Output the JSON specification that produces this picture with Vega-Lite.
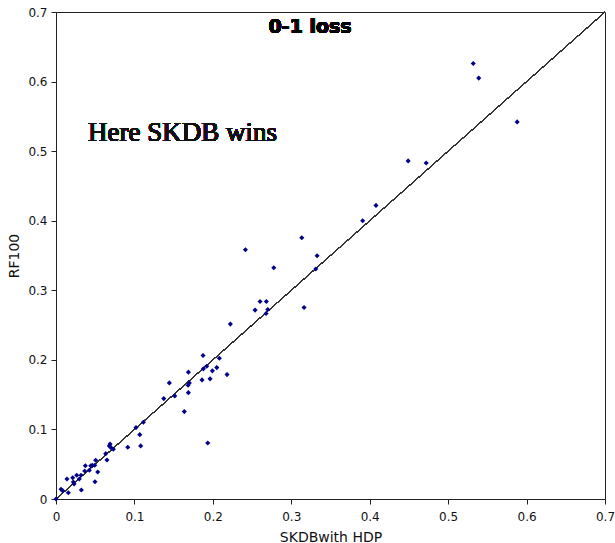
{
  "$schema": "https://vega.github.io/schema/vega-lite/v6.json",
  "width": 549,
  "height": 487,
  "autosize": "none",
  "padding": {"left": 56, "top": 12, "right": 10, "bottom": 44},
  "background": "white",
  "config": {
    "view": {"stroke": "#222", "strokeWidth": 1},
    "axis": {
      "grid": false,
      "domainColor": "#222",
      "tickColor": "#222",
      "labelColor": "#111",
      "titleColor": "#111",
      "labelFont": "DejaVu Sans",
      "titleFont": "DejaVu Sans",
      "labelFontSize": 12,
      "titleFontSize": 14,
      "titleFontWeight": "normal",
      "tickSize": 5,
      "labelFlush": false,
      "labelOverlap": false
    }
  },
  "data": {
    "values": [
      {"skdb": 0.0, "rf": 0.0},
      {"skdb": 0.0064, "rf": 0.014},
      {"skdb": 0.0085, "rf": 0.012},
      {"skdb": 0.0157, "rf": 0.009},
      {"skdb": 0.014, "rf": 0.0288},
      {"skdb": 0.0213, "rf": 0.0306},
      {"skdb": 0.0221, "rf": 0.0245},
      {"skdb": 0.023, "rf": 0.0216},
      {"skdb": 0.0264, "rf": 0.0341},
      {"skdb": 0.0297, "rf": 0.0288},
      {"skdb": 0.0319, "rf": 0.0341},
      {"skdb": 0.0323, "rf": 0.013},
      {"skdb": 0.0366, "rf": 0.0403},
      {"skdb": 0.0374, "rf": 0.0479},
      {"skdb": 0.0425, "rf": 0.0413},
      {"skdb": 0.0443, "rf": 0.0479},
      {"skdb": 0.0463, "rf": 0.0485},
      {"skdb": 0.0494, "rf": 0.0485},
      {"skdb": 0.0506, "rf": 0.0557},
      {"skdb": 0.0532, "rf": 0.0388},
      {"skdb": 0.0497, "rf": 0.0249},
      {"skdb": 0.0634, "rf": 0.0652},
      {"skdb": 0.065, "rf": 0.0561},
      {"skdb": 0.0689, "rf": 0.0791},
      {"skdb": 0.068, "rf": 0.0763},
      {"skdb": 0.0702, "rf": 0.0738},
      {"skdb": 0.0731, "rf": 0.0715},
      {"skdb": 0.0915, "rf": 0.0744},
      {"skdb": 0.102, "rf": 0.1026},
      {"skdb": 0.1068, "rf": 0.0925},
      {"skdb": 0.108, "rf": 0.0763},
      {"skdb": 0.1114, "rf": 0.1104},
      {"skdb": 0.1875, "rf": 0.2062},
      {"skdb": 0.2083, "rf": 0.2024},
      {"skdb": 0.1922, "rf": 0.1909},
      {"skdb": 0.1879, "rf": 0.1871},
      {"skdb": 0.1994, "rf": 0.1842},
      {"skdb": 0.205, "rf": 0.1889},
      {"skdb": 0.2181, "rf": 0.1788},
      {"skdb": 0.1688, "rf": 0.1823},
      {"skdb": 0.1445, "rf": 0.1669},
      {"skdb": 0.17, "rf": 0.1669},
      {"skdb": 0.1684, "rf": 0.1636},
      {"skdb": 0.1862, "rf": 0.1712},
      {"skdb": 0.1964, "rf": 0.1727},
      {"skdb": 0.1688, "rf": 0.1529},
      {"skdb": 0.1514, "rf": 0.1482},
      {"skdb": 0.1374, "rf": 0.1443},
      {"skdb": 0.1636, "rf": 0.1256},
      {"skdb": 0.1935, "rf": 0.0806},
      {"skdb": 0.3134, "rf": 0.3755},
      {"skdb": 0.2415, "rf": 0.3583},
      {"skdb": 0.3329, "rf": 0.3496},
      {"skdb": 0.2777, "rf": 0.3324},
      {"skdb": 0.3312, "rf": 0.3305},
      {"skdb": 0.2602, "rf": 0.2839},
      {"skdb": 0.2682, "rf": 0.2839},
      {"skdb": 0.2538, "rf": 0.2715},
      {"skdb": 0.27, "rf": 0.2724},
      {"skdb": 0.2679, "rf": 0.2666},
      {"skdb": 0.3163, "rf": 0.2753},
      {"skdb": 0.2223, "rf": 0.2514},
      {"skdb": 0.532, "rf": 0.626},
      {"skdb": 0.539, "rf": 0.605},
      {"skdb": 0.588, "rf": 0.542},
      {"skdb": 0.449, "rf": 0.486},
      {"skdb": 0.472, "rf": 0.483},
      {"skdb": 0.408, "rf": 0.422},
      {"skdb": 0.391, "rf": 0.4}
    ]
  },
  "layer": [
    {
      "mark": {"type": "rule", "color": "#333", "strokeWidth": 0.8},
      "encoding": {
        "x": {"datum": 0, "type": "quantitative", "scale": {"domain": [0, 0.7], "nice": false}},
        "y": {"datum": 0, "type": "quantitative", "scale": {"domain": [0, 0.7], "nice": false}},
        "x2": {"datum": 0.7},
        "y2": {"datum": 0.7}
      }
    },
    {
      "mark": {"type": "point", "shape": "diamond", "filled": true, "color": "#00008b", "opacity": 1, "size": 26},
      "encoding": {
        "x": {
          "field": "skdb", "type": "quantitative",
          "scale": {"domain": [0, 0.7], "nice": false},
          "axis": {"title": "SKDBwith HDP", "values": [0, 0.1, 0.2, 0.3, 0.4, 0.5, 0.6, 0.7], "format": ".1~f", "labelPadding": 7, "titlePadding": 8}
        },
        "y": {
          "field": "rf", "type": "quantitative",
          "scale": {"domain": [0, 0.7], "nice": false},
          "axis": {"title": "RF100", "values": [0, 0.1, 0.2, 0.3, 0.4, 0.5, 0.6, 0.7], "format": ".1~f", "labelPadding": 4, "titlePadding": 6}
        }
      }
    },
    {
      "mark": {"type": "text", "text": "Here SKDB wins", "font": "Liberation Serif", "fontSize": 27, "align": "center", "baseline": "middle", "color": "#111"},
      "encoding": {
        "x": {"datum": 0.1614, "type": "quantitative"},
        "y": {"datum": 0.5266, "type": "quantitative"}
      }
    },
    {
      "mark": {"type": "text", "text": "0-1 loss", "font": "DejaVu Sans", "fontSize": 19, "fontWeight": "bold", "align": "center", "baseline": "middle", "color": "#000"},
      "encoding": {
        "x": {"datum": 0.324, "type": "quantitative"},
        "y": {"datum": 0.679, "type": "quantitative"}
      }
    }
  ]
}
